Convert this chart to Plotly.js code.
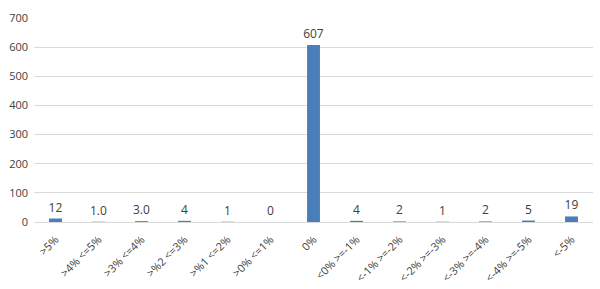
<!DOCTYPE html>
<html><head><meta charset="utf-8">
<script src="https://cdn.plot.ly/plotly-3.0.1.min.js"></script>
<style>html,body{margin:0;padding:0;background:#fff}#c{width:600px;height:289px}</style>
</head><body><div id="c"></div>
<script>
var categories = [">5%", ">4% <=5%", ">3% <=4%", ">%2 <=3%", ">%1 <=2%", ">0% <=1%", "0%", "<0% >=-1%", "<-1% >=-2%", "<-2% >=-3%", "<-3% >=-4%", "<-4% >=-5%", "<-5%"];
var values = [12, 1, 3, 4, 1, 0, 607, 4, 2, 1, 2, 5, 19];
var labels = ["12", "1.0", "3.0", "4", "1", "0", "607", "4", "2", "1", "2", "5", "19"];
var yTicks = [0, 100, 200, 300, 400, 500, 600, 700];

Plotly.newPlot('c', [{
  type: 'bar', x: categories, y: values, text: labels,
  textposition: 'outside', cliponaxis: false, constraintext: 'none',
  textfont: {family: 'Open Sans, Liberation Sans, sans-serif', size: 12, color: '#404040'},
  marker: {color: '#4a7ebb'}, hoverinfo: 'none'
}], {
  width: 600, height: 289,
  margin: {l: 34, r: 7, t: 18, b: 67},
  bargap: 0.7,
  paper_bgcolor: '#fff', plot_bgcolor: '#fff',
  showlegend: false,
  xaxis: {tickangle: -45, ticklabelstandoff: 6, tickfont: {family: 'Open Sans, Liberation Sans, sans-serif', size: 11, color: '#404040'},
          showline: true, linecolor: '#d9d9d9', ticks: '', fixedrange: true},
  yaxis: {range: [0, 700], tickvals: yTicks, gridcolor: '#d9d9d9', zeroline: false, ticklabelstandoff: 5,
          tickfont: {family: 'Open Sans, Liberation Sans, sans-serif', size: 11, color: '#404040'},
          ticks: '', fixedrange: true}
}, {displayModeBar: false, staticPlot: true});
</script></body></html>
